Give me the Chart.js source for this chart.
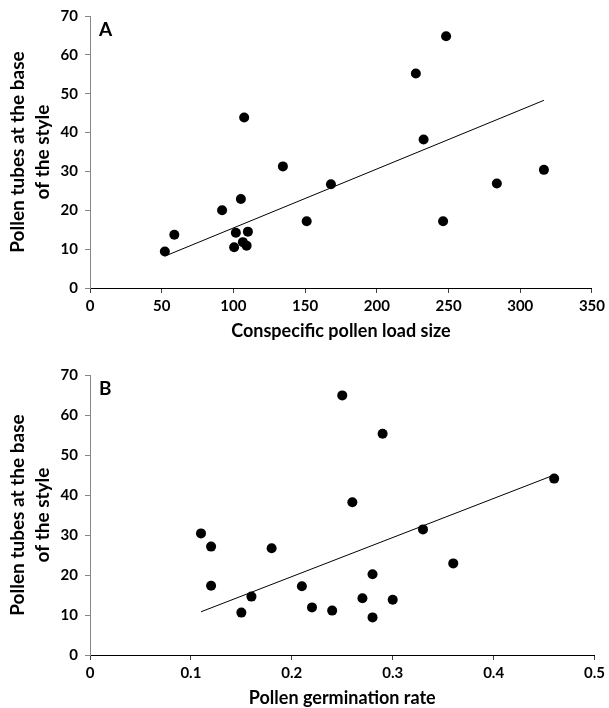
<!DOCTYPE html>
<html><head><meta charset="utf-8">
<script src="https://cdn.jsdelivr.net/npm/chart.js@4"></script>
<style>
html,body{margin:0;padding:0;background:#fff;}
#wrapA{position:absolute;left:0;top:0;width:609px;height:340px;}
#wrapB{position:absolute;left:0;top:359px;width:609px;height:348px;}
</style></head><body>
<div id="wrapA"><canvas id="cA"></canvas></div>
<div id="wrapB"><canvas id="cB"></canvas></div>
<script>
// Panel A: conspecific pollen load size vs pollen tubes
const loadSize = [52.2, 58.8, 92.1, 100.5, 101.7, 105.2, 107.5, 106.6, 109.2, 110.1, 134.5, 151.1, 168.0, 227.2, 232.6, 246.2, 248.3, 283.7, 316.5];
const tubesA   = [9.4, 13.7, 20.0, 10.5, 14.2, 22.9, 43.9, 11.8, 10.9, 14.5, 31.3, 17.2, 26.7, 55.2, 38.2, 17.2, 64.8, 26.9, 30.4];
const trendAx  = [52.2, 316.5];
const trendAy  = [8.2, 48.3];
// Panel B: pollen germination rate vs pollen tubes
const germRate = [0.11, 0.12, 0.12, 0.15, 0.16, 0.18, 0.21, 0.22, 0.24, 0.25, 0.26, 0.27, 0.28, 0.28, 0.29, 0.30, 0.33, 0.36, 0.46];
const tubesB   = [30.4, 27.1, 17.3, 10.6, 14.6, 26.7, 17.2, 11.9, 11.1, 64.9, 38.2, 14.2, 20.2, 9.4, 55.3, 13.8, 31.4, 22.9, 44.1];
const trendBx  = [0.11, 0.46];
const trendBy  = [10.8, 45.0];
// ticks and labels
const yTicks  = [0, 10, 20, 30, 40, 50, 60, 70];
const xTicksA = [0, 50, 100, 150, 200, 250, 300, 350];
const xTicksB = [0, 0.1, 0.2, 0.3, 0.4, 0.5];
const yTitle  = ['Pollen tubes at the base', 'of the style'];
const xTitleA = 'Conspecific pollen load size';
const xTitleB = 'Pollen germination rate';

const FONT = 'Lato';

const letterPlugin = {
  id: 'panelLetter',
  afterDraw(chart, args, opts) {
    const ctx = chart.ctx;
    ctx.save();
    ctx.font = 'bold 19px ' + FONT;
    ctx.fillStyle = '#000';
    ctx.textBaseline = 'alphabetic';
    ctx.textAlign = 'left';
    ctx.fillText(opts.text, chart.chartArea.left + 9, chart.chartArea.top + 20);
    ctx.restore();
  }
};

function pts(xs, ys) { return xs.map((x, i) => ({x: x, y: ys[i]})); }

function makeChart(id, xs, ys, tx, ty, xTicks, xTitle, rightPad, letter) {
  return new Chart(document.getElementById(id), {
    type: 'scatter',
    data: {
      datasets: [
        { data: pts(xs, ys), backgroundColor: '#000', borderWidth: 0, pointRadius: 5, pointHoverRadius: 5 },
        { data: pts(tx, ty), showLine: true, borderColor: '#000', borderWidth: 1, pointRadius: 0, fill: false }
      ]
    },
    plugins: [letterPlugin],
    options: {
      responsive: true,
      maintainAspectRatio: false,
      animation: false,
      events: [],
      layout: { padding: { top: 14, right: rightPad, left: 0, bottom: 0 } },
      plugins: { legend: { display: false }, tooltip: { enabled: false }, panelLetter: { text: letter } },
      scales: {
        x: {
          type: 'linear',
          min: xTicks[0], max: xTicks[xTicks.length - 1],
          afterBuildTicks: s => { s.ticks = xTicks.map(v => ({value: v})); },
          afterFit: s => { s.height = 52; },
          grid: { drawOnChartArea: false, drawTicks: true, tickLength: 5, color: '#404040' },
          border: { color: '#000', width: 1 },
          ticks: { font: { family: FONT, weight: 'bold', size: 15 }, color: '#000', padding: 4, maxRotation: 0, autoSkip: false, callback: v => String(v) },
          title: { display: true, text: xTitle, font: { family: FONT, weight: 'bold', size: 18, lineHeight: 1.0 }, color: '#000', padding: { top: 0, bottom: 0 } }
        },
        y: {
          type: 'linear',
          min: 0, max: 70,
          afterBuildTicks: s => { s.ticks = yTicks.map(v => ({value: v})); },
          afterFit: s => { s.width = 90; },
          grid: { drawOnChartArea: false, drawTicks: true, tickLength: 5, color: '#868686' },
          border: { color: '#868686', width: 1 },
          ticks: { font: { family: FONT, weight: 'bold', size: 15 }, color: '#000', padding: 7, callback: v => String(v) },
          title: { display: true, text: yTitle, font: { family: FONT, weight: 'bold', size: 19, lineHeight: 1.32 }, color: '#000', padding: { top: 5.5, bottom: 0 } }
        }
      }
    }
  });
}

makeChart('cA', loadSize, tubesA, trendAx, trendAy, xTicksA, xTitleA, 15, 'A');
makeChart('cB', germRate, tubesB, trendBx, trendBy, xTicksB, xTitleB, 13, 'B');
</script>
</body></html>
